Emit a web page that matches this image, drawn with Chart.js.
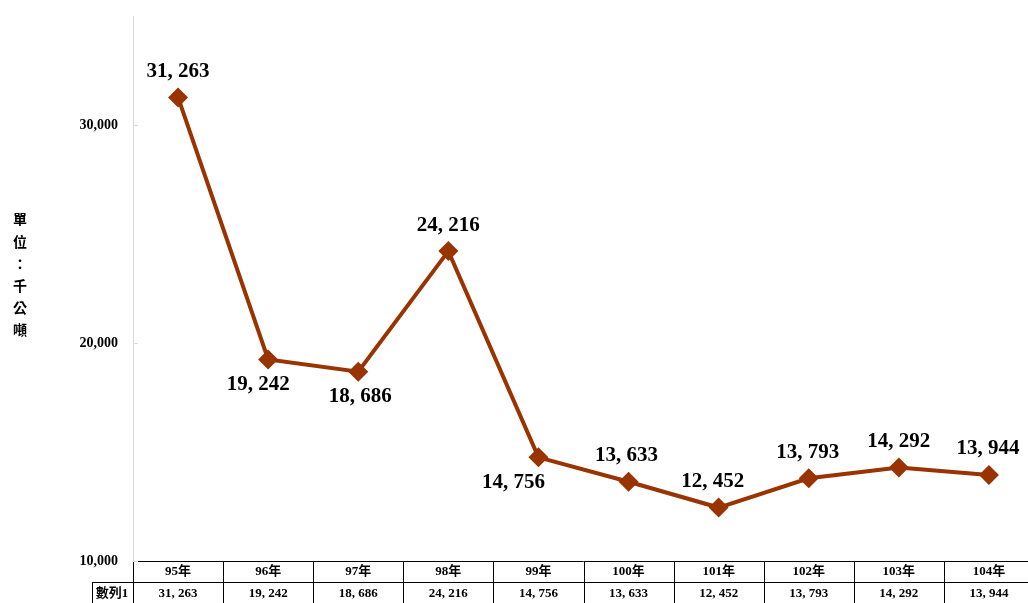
<!DOCTYPE html>
<html>
<head>
<meta charset="utf-8">
<script src="https://cdn.jsdelivr.net/npm/chart.js@4/dist/chart.umd.min.js"></script>
<style>
html,body{margin:0;padding:0;background:#fff;overflow:hidden;}
#wrap{position:relative;width:1044px;height:603px;}
</style>
</head>
<body>
<div id="wrap"><canvas id="c"></canvas></div>
<script>
const categories = ['95年','96年','97年','98年','99年','100年','101年','102年','103年','104年'];
const seriesName = '數列1';
const values = [31263, 19242, 18686, 24216, 14756, 13633, 12452, 13793, 14292, 13944];
const yTicks = [10000, 20000, 30000];
const yTitle = ['單','位','：','千','公','噸'];

const LINE = '#993300';
const fmt = v => v.toLocaleString('en-US').replace(/,/g, ', ');
const SERIF = "'Liberation Serif', 'Noto Sans CJK TC', serif";

const labelsPlugin = {
  id: 'pointLabels',
  afterDatasetsDraw(chart, args, opts) {
    const ctx = chart.ctx;
    const meta = chart.getDatasetMeta(0);
    ctx.save();
    ctx.font = 'bold 21px ' + SERIF;
    ctx.fillStyle = '#000';
    ctx.textAlign = 'center';
    ctx.textBaseline = 'middle';
    meta.data.forEach((pt, i) => {
      const p = opts.place[i];
      const dy = p[0] === 'a' ? -26 : 25;
      ctx.fillText(fmt(values[i]), pt.x + p[1], pt.y + dy);
    });
    ctx.restore();
  }
};

const tablePlugin = {
  id: 'dataTable',
  afterDraw(chart) {
    const ctx = chart.ctx;
    const ca = chart.chartArea;
    const x = chart.scales.x;
    const n = categories.length;
    const left = ca.left, right = ca.right;
    const w = (right - left) / n;
    const top = ca.bottom;
    const mid = top + 21;
    const bot = top + 44;
    ctx.save();
    ctx.strokeStyle = '#000';
    ctx.lineWidth = 1;
    ctx.beginPath();
    ctx.moveTo(left, Math.round(top) + 0.5); ctx.lineTo(right, Math.round(top) + 0.5);
    ctx.moveTo(92, Math.round(mid) + 0.5); ctx.lineTo(right, Math.round(mid) + 0.5);
    ctx.moveTo(92, Math.round(bot) + 0.5); ctx.lineTo(right, Math.round(bot) + 0.5);
    for (let i = 0; i <= n; i++) {
      const xx = Math.round(left + i * w) + 0.5;
      ctx.moveTo(xx, top); ctx.lineTo(xx, bot);
    }
    ctx.moveTo(92.5, mid); ctx.lineTo(92.5, bot);
    ctx.stroke();
    ctx.fillStyle = '#000';
    ctx.font = 'bold 13px ' + SERIF;
    ctx.textAlign = 'center';
    ctx.textBaseline = 'middle';
    categories.forEach((c, i) => {
      const cx = x.getPixelForValue(i);
      ctx.fillText(c, cx, top + 11);
      ctx.fillText(fmt(values[i]), cx, mid + 12);
    });
    ctx.fillText(seriesName, 112, mid + 12);

    // y axis small tick marks (inside)
    const y = chart.scales.y;
    ctx.strokeStyle = '#d9d9d9';
    ctx.beginPath();
    yTicks.forEach(t => {
      const yy = Math.round(y.getPixelForValue(t)) + 0.5;
      ctx.moveTo(left, yy); ctx.lineTo(left + 5, yy);
    });
    ctx.stroke();

    // vertical stacked y title
    ctx.font = 'bold 14px "Noto Sans CJK TC", sans-serif';
    ctx.fillStyle = '#000';
    yTitle.forEach((ch, i) => {
      ctx.fillText(ch, 20, 219 + i * 22.2);
    });
    ctx.restore();
  }
};

new Chart(document.getElementById('c'), {
  type: 'line',
  data: {
    labels: categories,
    datasets: [{
      label: seriesName,
      data: values,
      borderColor: LINE,
      backgroundColor: LINE,
      borderWidth: 4,
      pointStyle: 'rectRot',
      pointRadius: 10,
      pointHoverRadius: 10,
      pointBackgroundColor: LINE,
      pointBorderColor: LINE,
      pointBorderWidth: 0,
      tension: 0
    }]
  },
  options: {
    responsive: true,
    maintainAspectRatio: false,
    animation: false,
    events: [],
    layout: { padding: { top: 16, bottom: 42, left: 0, right: 0 } },
    plugins: {
      legend: { display: false },
      tooltip: { enabled: false },
      pointLabels: {
        place: [['a',0],['b',-10],['b',2],['a',0],['b',-25],['a',-2],['a',-6],['a',-1],['a',0],['a',-1]]
      }
    },
    scales: {
      x: { display: false, offset: true },
      y: {
        min: 10000,
        max: 35000,
        afterBuildTicks: s => { s.ticks = yTicks.map(v => ({ value: v })); },
        afterFit: s => { s.width = 133; s.paddingTop = 0; s.paddingBottom = 0; },
        grid: { drawOnChartArea: false, drawTicks: false },
        border: { color: '#d9d9d9', width: 1 },
        ticks: {
          padding: 15,
          color: '#000',
          font: { family: SERIF, size: 14, weight: 'bold' },
          callback: v => v.toLocaleString('en-US')
        }
      }
    }
  },
  plugins: [labelsPlugin, tablePlugin]
});
</script>
</body>
</html>
